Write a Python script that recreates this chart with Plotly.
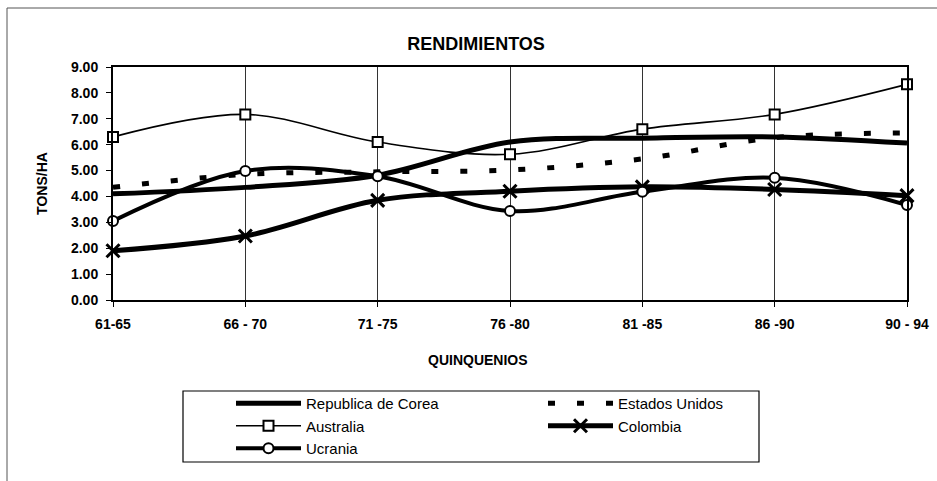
import plotly.graph_objects as go

# periods (quinquenios)
periodos = ["61-65", "66 - 70", "71 -75", "76 -80", "81 -85", "86 -90", "90 - 94"]

# yields, tons/ha
corea = [4.10, 4.35, 4.82, 6.10, 6.25, 6.30, 6.06]
estados_unidos = [4.35, 4.85, 4.95, 5.02, 5.45, 6.27, 6.45]
australia = [6.30, 7.17, 6.10, 5.63, 6.60, 7.17, 8.33]
colombia = [1.90, 2.47, 3.85, 4.20, 4.37, 4.27, 4.03]
ucrania = [3.05, 4.98, 4.78, 3.44, 4.18, 4.72, 3.67]

FONT = "Liberation Sans, Arial, sans-serif"

fig = go.Figure()
fig.add_trace(go.Scatter(
    x=periodos, y=corea, name="Republica de Corea", mode="lines",
    line=dict(color="black", width=5, shape="spline", smoothing=1),
))
fig.add_trace(go.Scatter(
    x=periodos, y=estados_unidos, name="Estados Unidos", mode="lines",
    line=dict(color="black", width=5, dash="7px,22px", shape="spline", smoothing=1),
))
fig.add_trace(go.Scatter(
    x=periodos, y=australia, name="Australia", mode="lines+markers",
    line=dict(color="black", width=1.6, shape="spline", smoothing=1),
    marker=dict(symbol="square", size=10, color="white", line=dict(color="black", width=2)),
))
fig.add_trace(go.Scatter(
    x=periodos, y=colombia, name="Colombia", mode="lines+markers",
    line=dict(color="black", width=5, shape="spline", smoothing=1),
    marker=dict(symbol="x-thin", size=13, color="black", line=dict(color="black", width=3)),
))
fig.add_trace(go.Scatter(
    x=periodos, y=ucrania, name="Ucrania", mode="lines+markers",
    line=dict(color="black", width=4, shape="spline", smoothing=1),
    marker=dict(symbol="circle", size=10, color="white", line=dict(color="black", width=2)),
))
fig.update_traces(cliponaxis=False)

W, H = 937, 481
L, R, T, B = 113, 30, 67, 181
pw, ph = W - L - R, H - T - B


def px_x(v):
    return (v - L) / pw


def px_y(v):
    return (H - B - v) / ph


# outer chart border (top and left edges visible) and legend box
fig.add_shape(type="line", xref="paper", yref="paper",
              x0=px_x(7), x1=px_x(937), y0=px_y(8), y1=px_y(8),
              line=dict(color="#555", width=1))
fig.add_shape(type="line", xref="paper", yref="paper",
              x0=px_x(7), x1=px_x(7), y0=px_y(8), y1=px_y(481),
              line=dict(color="#555", width=1))
fig.add_shape(type="rect", xref="paper", yref="paper",
              x0=px_x(183), x1=px_x(759), y0=px_y(462), y1=px_y(391),
              line=dict(color="black", width=1.2))

# x axis title centred on the chart area, as in the original
fig.add_annotation(text="QUINQUENIOS", xref="paper", yref="paper",
                   x=px_x(478), y=px_y(360), xanchor="center", yanchor="middle",
                   showarrow=False, font=dict(size=14, family=FONT, weight="bold"))

fig.update_layout(
    width=W, height=H,
    margin=dict(l=L, r=R, t=T, b=B),
    paper_bgcolor="white", plot_bgcolor="white",
    font=dict(family=FONT, color="black", size=14, weight="bold"),
    title=dict(text="RENDIMIENTOS", x=476 / W, xanchor="center", y=1 - 44 / H, yanchor="middle",
               font=dict(size=18, family=FONT, weight="bold")),
    showlegend=True,
    legend=dict(
        orientation="h", x=px_x(231), xanchor="left",
        yref="container", y=1 - 387 / H, yanchor="top",
        entrywidth=232, entrywidthmode="pixels", tracegroupgap=0,
        bgcolor="rgba(0,0,0,0)", borderwidth=0,
        font=dict(size=15, family=FONT, weight="normal"),
        traceorder="normal", itemwidth=65,
    ),
    xaxis=dict(
        type="category", range=[0, 6], automargin=False,
        showgrid=True, gridcolor="#333", gridwidth=1,
        showline=True, linecolor="black", linewidth=2, mirror=True,
        ticks="outside", ticklen=5, tickcolor="black",
        ticklabelstandoff=5,
        tickfont=dict(size=14, family=FONT, weight="bold"),
    ),
    yaxis=dict(
        range=[0, 9], dtick=1, tickformat=".2f", automargin=False,
        showgrid=False, zeroline=False,
        showline=True, linecolor="black", linewidth=2, mirror=True,
        ticks="outside", ticklen=5, tickcolor="black",
        ticklabelstandoff=5,
        tickfont=dict(size=14, family=FONT, weight="bold"),
        title=dict(text="TONS/HA", standoff=20, font=dict(size=14, family=FONT, weight="bold")),
    ),
)

# the page body has a default 8px margin; remove it so the figure sits at 0,0
fig.write_html("out.html", config={"displayModeBar": False},
               post_script="document.body.style.margin='0';")
